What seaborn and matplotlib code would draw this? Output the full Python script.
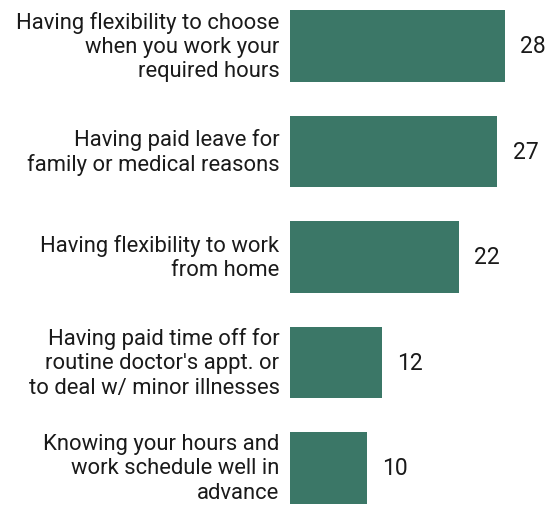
import matplotlib
matplotlib.use("Agg")
import matplotlib.pyplot as plt
import seaborn as sns
import pandas as pd

categories = [
    "Having flexibility to choose\nwhen you work your\nrequired hours",
    "Having paid leave for\nfamily or medical reasons",
    "Having flexibility to work\nfrom home",
    "Having paid time off for\nroutine doctor's appt. or\nto deal w/ minor illnesses",
    "Knowing your hours and\nwork schedule well in\nadvance",
]
values = [28, 27, 22, 12, 10]

df = pd.DataFrame({"item": categories, "share": values})

sns.set_theme(style="white")
plt.rcParams["font.family"] = ["Roboto", "DejaVu Sans"]

fig = plt.figure(figsize=(5.55, 5.06), dpi=100)
ax = fig.add_axes([0.5225, 0.0, 0.4775, 1.0])

sns.barplot(data=df, x="share", y="item", orient="h", color="#3b7767",
            saturation=1, width=0.68, linewidth=0, ax=ax)

ax.set_xlim(0, 34.5)
ax.set_ylim(4.351, -0.4455)
ax.set_xlabel("")
ax.set_ylabel("")
ax.set_xticks([])
sns.despine(ax=ax, left=True, bottom=True)

ax.tick_params(axis="y", length=0, pad=7.5, labelsize=15.8, labelcolor="#1a1a1a")
for lab in ax.get_yticklabels():
    lab.set_multialignment("right")
    lab.set_linespacing(1.2)
    lab.set_verticalalignment("center")

for i, v in enumerate(values):
    ax.text(v + 2.0, i, str(v), va="center", ha="left", fontsize=16.5,
            color="#1a1a1a")

fig.savefig("out.png", dpi=100)
